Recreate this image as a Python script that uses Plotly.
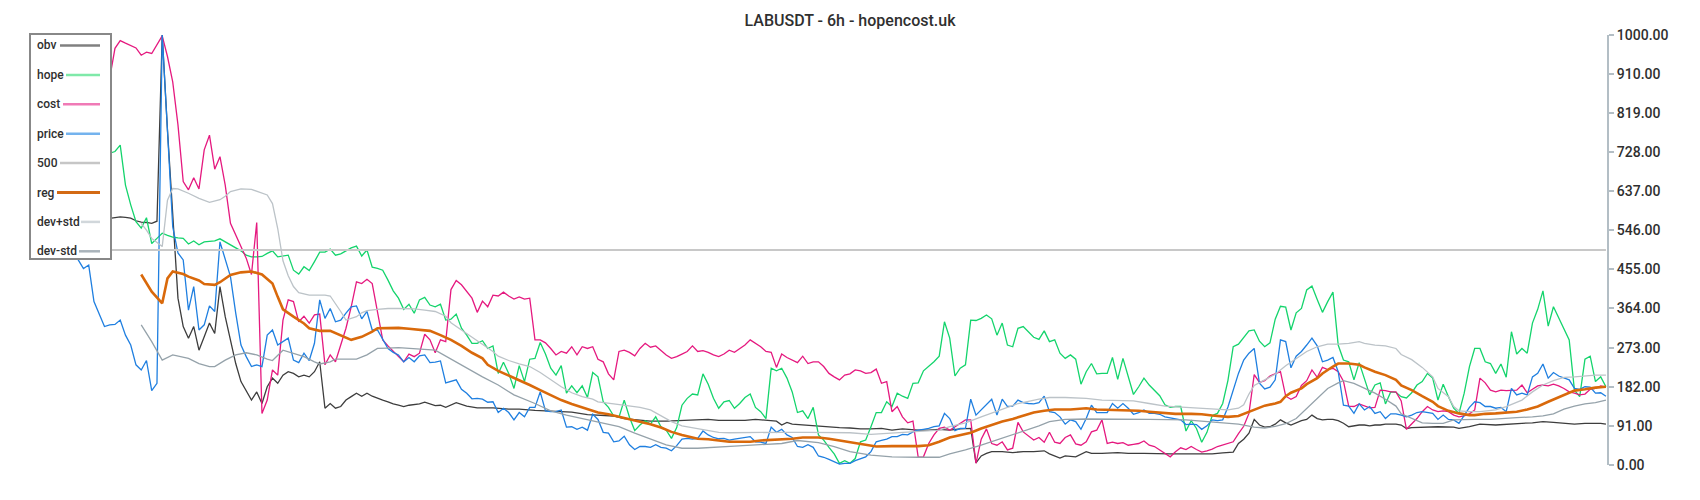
import plotly.graph_objects as go

# ---------------- data (bar index = 6h candle number) ----------------
N_BARS = 300
LEVEL_500 = 500

price_start = 7
price = [
    505, 477, 457, 465, 380, 353, 322, 326, 327, 337,
    302, 279, 233, 221, 243, 173, 190, 1000, 760, 554,
    493, 477, 360, 415, 314, 326, 370, 357, 519, 477,
    438, 353, 279, 252, 229, 233, 229, 302, 314, 279,
    287, 295, 244, 238, 260, 243, 283, 384, 341, 364,
    333, 337, 353, 368, 370, 340, 357, 314, 314, 291,
    271, 262, 256, 240, 250, 240, 254, 256, 238, 239,
    242, 191, 194, 198, 176, 167, 154, 155, 153, 146,
    147, 122, 132, 122, 105, 122, 112, 134, 134, 170,
    126, 124, 124, 128, 88, 89, 83, 88, 81, 118,
    106, 76, 74, 54, 56, 67, 47, 36, 43, 43,
    41, 47, 41, 39, 33, 45, 60, 62, 60, 62,
    79, 70, 64, 61, 62, 58, 60, 62, 64, 66,
    54, 53, 50, 88, 76, 83, 70, 64, 43, 41,
    47, 41, 21, 18, 13, 8, 2, 4, 4, 10,
    15, 19, 31, 54, 57, 60, 66, 66, 71, 70,
    77, 81, 83, 85, 89, 91, 120, 108, 80, 85,
    85, 153, 116, 129, 142, 153, 116, 153, 136, 137,
    151, 145, 143, 142, 145, 160, 124, 122, 112, 95,
    105, 101, 83, 108, 139, 122, 122, 122, 143, 132,
    143, 132, 118, 122, 128, 120, 120, 118, 112, 110,
    108, 105, 94, 95, 94, 83, 91, 105, 103, 105,
    135, 176, 213, 244, 260, 271, 190, 177, 181, 198,
    291, 287, 226, 253, 264, 279, 295, 277, 240, 244,
    250, 217, 139, 137, 120, 142, 128, 136, 120, 124,
    108, 119, 119, 116, 112, 116, 122, 124, 122, 120,
    106, 116, 106, 105, 97, 116, 134, 147, 145, 136,
    136, 132, 134, 124, 178, 163, 167, 163, 205, 213,
    235, 202, 215, 207, 202, 198, 178, 176, 182, 181,
    167, 168, 160,
]

cost_start = 13
cost = [
    850, 900, 969, 987, 981, 975, 970, 953, 960, 957,
    977, 998, 950, 891, 791, 659, 640, 668, 642, 733,
    767, 688, 717, 651, 562, 535, 512, 481, 443, 564,
    120, 151, 221, 209, 337, 384, 380, 333, 346, 330,
    349, 351, 233, 256, 240, 279, 318, 368, 426, 422,
    432, 422, 360, 291, 277, 265, 252, 240, 258, 252,
    260, 304, 291, 261, 291, 287, 408, 429, 419, 403,
    388, 355, 381, 368, 395, 393, 402, 393, 386, 391,
    386, 388, 291, 291, 284, 271, 256, 264, 260, 275,
    256, 275, 271, 275, 246, 240, 212, 198, 264, 267,
    262, 254, 271, 283, 274, 277, 266, 256, 248, 252,
    258, 264, 277, 264, 266, 262, 256, 252, 258, 267,
    262, 271, 279, 291, 284, 275, 264, 262, 227, 258,
    250, 244, 238, 253, 236, 240, 240, 229, 213, 205,
    198, 209, 212, 221, 219, 213, 215, 223, 190, 194,
    124, 136, 112, 98, 102, 18, 19, 50, 70, 85,
    88, 81, 89, 98, 105, 105, 4, 60, 84, 50,
    46, 54, 35, 39, 99, 77, 68, 58, 64, 53,
    76, 53, 50, 64, 70, 49, 46, 54, 77, 81,
    105, 50, 53, 50, 52, 46, 48, 50, 56, 46,
    43, 35, 29, 19, 31, 40, 36, 43, 36, 30,
    33, 37, 43, 47, 51, 54, 73, 90, 120, 210,
    192, 196, 207, 212, 217, 160, 153, 159, 185, 196,
    221, 204, 227, 222, 225, 217, 195, 137, 136, 142,
    137, 133, 134, 174, 173, 170, 170, 149, 83, 95,
    108, 124, 136, 128, 124, 126, 124, 116, 112, 114,
    119, 128, 202, 191, 174, 170, 174, 173, 173, 174,
    186, 168, 176, 184, 186, 184, 188, 184, 178, 170,
    167, 163, 165, 176, 178, 184, 181,
]

hope_start = 13
hope = [
    700, 725, 729, 744, 651, 605, 566, 551, 575, 515,
    527, 539, 534, 530, 528, 527, 514, 521, 512, 519,
    520, 521, 526, 519, 512, 505, 498, 488, 484, 484,
    485, 492, 498, 484, 486, 488, 453, 444, 461, 452,
    473, 495, 495, 502, 488, 491, 498, 505, 509, 486,
    500, 460, 457, 453, 430, 405, 388, 362, 374, 353,
    384, 390, 372, 368, 374, 337, 339, 351, 318, 302,
    283, 283, 289, 271, 277, 213, 239, 213, 178, 231,
    194, 246, 248, 285, 258, 225, 209, 231, 167, 184,
    168, 184, 157, 215, 205, 147, 134, 114, 111, 151,
    111, 80, 93, 103, 95, 112, 89, 81, 62, 87,
    139, 155, 165, 163, 212, 188, 155, 132, 147, 150,
    132, 143, 157, 165, 134, 124, 108, 225, 219, 225,
    202, 170, 122, 126, 108, 134, 70, 58, 41, 26,
    4, 10, 4, 15, 54, 58, 89, 122, 122, 147,
    136, 167, 160, 155, 190, 191, 219, 229, 240, 253,
    333, 295, 207, 225, 233, 337, 336, 341, 349, 340,
    302, 330, 279, 275, 318, 322, 310, 297, 292, 312,
    287, 291, 260, 248, 256, 246, 188, 217, 236, 212,
    213, 213, 250, 199, 248, 205, 164, 182, 202, 186,
    174, 161, 140, 134, 136, 136, 79, 103, 85, 53,
    76, 115, 120, 143, 197, 275, 281, 296, 312, 314,
    288, 275, 284, 339, 369, 367, 314, 354, 364, 407,
    416, 385, 355, 380, 402, 279, 244, 240, 198, 238,
    198, 163, 186, 191, 142, 170, 169, 159, 156, 168,
    186, 194, 213, 202, 151, 188, 159, 132, 120, 167,
    229, 271, 271, 240, 236, 213, 235, 204, 310, 258,
    271, 260, 330, 362, 405, 323, 368, 341, 318, 291,
    174, 159, 246, 253, 194, 205, 182,
]

obv_bar = [
    13, 14, 15, 16, 17, 18, 19, 20, 21, 22,
    23, 24, 25, 26, 27, 28, 29, 30, 31, 32,
    33, 34, 35, 36, 37, 38, 39, 40, 41, 42,
    43, 44, 45, 46, 47, 48, 49, 50, 51, 52,
    53, 54, 55, 56, 57, 58, 59, 60, 61, 62,
    63, 64, 65, 66, 67, 68, 69,
    70, 71, 73, 74, 76, 77, 78, 80, 82, 84, 87, 90, 92, 95, 97, 100, 102,
    105, 107, 110, 112, 115, 117, 120, 123, 125, 128, 130, 133, 135, 137,
    139, 141, 142, 143, 144, 146, 148, 151, 153, 155, 157, 159, 161, 163,
    165, 168, 170, 172, 174, 176, 178, 179, 180, 181, 182, 184, 186, 188,
    190, 192, 193, 195, 196, 198, 200, 201, 203, 206, 208, 211, 213, 216,
    219, 222, 224, 226, 228, 229, 230, 231, 232, 233, 234, 235, 236, 237,
    238, 239, 240, 241, 242, 243, 244, 245, 246, 247, 248, 249, 250, 251,
    252, 253, 254, 255, 256, 257, 258, 259, 260, 261, 262, 265, 267, 270,
    271, 273, 275, 278, 280, 283, 285, 287, 289, 291, 293, 295, 297, 298, 299,
]
obv = [
    572, 574, 576, 577, 576, 574, 568, 565, 564, 562,
    567, 1000, 779, 570, 388, 322, 295, 322, 267, 298,
    330, 306, 415, 345, 291, 236, 194, 174, 151, 170,
    143, 182, 202, 190, 209, 217, 213, 205, 209, 205,
    217, 240, 132, 143, 132, 136, 151, 159, 167, 160,
    167, 160, 155, 151, 147, 142, 139,
    136, 139, 142, 146, 138, 139, 134, 145, 137, 133, 133, 130, 130, 127, 126, 123, 123,
    117, 116, 114, 108, 104, 102, 102, 104, 104, 106, 104, 104, 104, 106,
    104, 102, 93, 99, 95, 93, 92, 89, 87, 86, 84, 84, 85, 81,
    84, 81, 81, 83, 81, 84, 85, 5, 21, 27, 31, 31, 29, 31,
    31, 33, 26, 16, 21, 19, 31, 27, 27, 29, 27, 27, 26, 26,
    26, 26, 26, 28, 30, 50, 60, 74, 106, 93, 88, 89, 95, 105,
    98, 93, 98, 103, 106, 116, 108, 105, 106, 106, 103, 97, 89, 91,
    93, 93, 91, 93, 93, 95, 95, 95, 93, 85, 87, 89, 89, 88,
    85, 89, 95, 93, 95, 97, 98, 101, 99, 97, 95, 97, 98, 97, 95,
]

reg_bar = [
    20, 22, 24, 25, 26, 28, 29, 31, 32, 34,
    35, 37, 39, 41, 43, 44, 45, 46, 47, 49,
    51, 52, 54, 56, 58, 60, 62, 64, 65, 67,
    69, 71, 73, 75, 77, 79, 81, 83, 85, 86,
    88, 90, 92, 94, 96, 98, 100, 102, 104, 106,
    107, 109, 111, 113, 115, 117, 119, 121, 123, 125,
    126, 128, 130, 132, 134, 136, 138, 140, 142, 144,
    146, 147, 149, 151, 153, 155, 158, 160, 163, 168,
    170, 172, 174, 176, 178, 180, 182, 184, 186, 188,
    190, 192, 194, 197, 200, 202, 205, 207, 210, 212,
    215, 217, 220, 222, 224, 226, 227, 229, 230, 232,
    234, 236, 237, 238, 239, 241, 242, 244, 245, 247,
    248, 250, 252, 253, 255, 257, 259, 260, 262, 264,
    266, 267, 269, 271, 273, 274, 276, 278, 280, 282,
    284, 286, 288, 290, 292, 293, 295, 297, 299,
]
reg = [
    443, 403, 376, 434, 450, 444, 438, 429, 421, 419,
    425, 442, 448, 450, 443, 432, 422, 391, 362, 345,
    329, 318, 312, 312, 302, 291, 298, 310, 318, 318,
    319, 317, 315, 312, 302, 291, 277, 261, 248, 233,
    219, 208, 198, 186, 174, 163, 151, 142, 134, 126,
    122, 118, 112, 106, 101, 95, 87, 77, 70, 64,
    61, 60, 57, 54, 54, 54, 57, 58, 60, 61,
    64, 64, 64, 61, 57, 52, 46, 43, 44, 44,
    46, 54, 64, 70, 75, 85, 93, 101, 107, 115,
    122, 126, 129, 129, 132, 129, 128, 128, 126, 124,
    120, 119, 119, 118, 115, 113, 112, 114, 119, 129,
    138, 143, 147, 160, 168, 178, 188, 202, 213, 229,
    236, 236, 233, 227, 217, 209, 198, 185, 174, 160,
    147, 137, 126, 120, 116, 116, 119, 120, 122, 124,
    129, 136, 147, 157, 167, 173, 176, 180, 182,
]

dev_plus_bar = [
    20, 21, 22, 24, 25, 26, 27, 29, 31, 33,
    35, 36, 37, 39, 41, 42, 44, 45, 46, 47,
    48, 49, 50, 52, 55, 56, 57, 58, 59, 61,
    62, 63, 65, 67, 69, 72, 74, 76, 78, 79,
    81, 83, 85, 87, 88, 90, 92, 94, 96, 98,
    100, 102, 104, 106, 107, 110, 113, 115, 117, 119,
    121, 123, 125, 126, 128, 130, 132, 137, 142, 147,
    152, 155, 159, 163, 168, 172, 174, 177, 180, 184,
    187, 191, 193, 196, 200, 203, 206, 209, 212, 215,
    219, 222, 225, 227, 229, 230, 231, 232, 234, 236,
    238, 240, 242, 244, 246, 248, 250, 252, 253, 255,
    257, 259, 260, 262, 264, 266, 267, 269, 270, 271,
    273, 275, 278, 280, 283, 285, 287, 289, 291, 293,
    295, 297, 299,
]
dev_plus = [
    562, 546, 527, 508, 616, 643, 642, 632, 620, 611,
    617, 625, 636, 642, 641, 637, 628, 608, 550, 475,
    440, 415, 401, 395, 395, 393, 376, 357, 337, 345,
    354, 359, 362, 364, 364, 363, 360, 357, 346, 331,
    314, 297, 281, 264, 253, 243, 235, 229, 215, 198,
    182, 168, 159, 153, 147, 142, 137, 134, 128, 114,
    101, 91, 87, 85, 81, 76, 75, 76, 76, 76,
    75, 75, 71, 74, 77, 81, 89, 98, 112, 129,
    143, 153, 157, 157, 155, 151, 150, 149, 143, 137,
    134, 132, 130, 128, 132, 140, 165, 185, 198, 211,
    231, 248, 264, 275, 281, 281, 283, 287, 283, 279,
    277, 271, 257, 245, 227, 205, 178, 159, 136, 126,
    124, 124, 128, 136, 151, 170, 186, 196, 204, 205,
    207, 209, 209,
]

dev_minus_bar = [
    20, 22, 24, 26, 29, 31, 33, 34, 36, 38,
    40, 42, 44, 45, 47, 49, 51, 53, 54, 56,
    57, 59, 61, 63, 65, 67, 69, 76, 79, 82,
    85, 88, 91, 95, 98, 101, 104, 107, 111, 114,
    117, 120, 123, 126, 133, 139, 142, 145, 149, 152,
    155, 159, 163, 168, 172, 174, 177, 180, 184, 187,
    191, 193, 196, 200, 206, 212, 219, 222, 225, 227,
    229, 232, 234, 236, 238, 240, 242, 244, 246, 248,
    249, 251, 253, 255, 257, 259, 260, 262, 264, 266,
    268, 270, 272, 274, 277, 279, 282, 285, 287, 289,
    291, 293, 295, 297, 299,
]
dev_minus = [
    326, 287, 244, 256, 248, 236, 229, 229, 244, 256,
    261, 256, 246, 243, 267, 260, 252, 240, 235, 240,
    246, 246, 246, 256, 271, 272, 273, 267, 246, 225,
    205, 186, 163, 143, 126, 116, 108, 101, 89, 74,
    60, 47, 39, 39, 44, 47, 50, 57, 52, 43,
    31, 23, 19, 18, 18, 26, 35, 46, 62, 75,
    91, 101, 106, 107, 107, 106, 105, 102, 99, 97,
    95, 88, 86, 90, 96, 108, 132, 155, 178, 191,
    196, 190, 178, 167, 153, 137, 119, 109, 98, 97,
    97, 105, 106, 106, 106, 108, 110, 112, 114, 119,
    130, 137, 142, 145, 151,
]

tick_values = [0, 91, 182, 273, 364, 455, 546, 637, 728, 819, 910, 1000]

assert len(obv_bar) == len(obv)
assert len(reg_bar) == len(reg)
assert len(dev_plus_bar) == len(dev_plus)
assert len(dev_minus_bar) == len(dev_minus)
assert price_start + len(price) == N_BARS
assert cost_start + len(cost) == N_BARS
assert hope_start + len(hope) == N_BARS

# ---------------- styles ----------------
FONT = "Roboto"
TEXT_COLOR = "#2f2f2f"
series_style = {
    "obv":     dict(color="#3d3d3d", width=1.3),
    "hope":    dict(color="#14d46c", width=1.3),
    "cost":    dict(color="#e5197f", width=1.3),
    "price":   dict(color="#1f7fe0", width=1.3),
    "500":     dict(color="#c8c8c8", width=2),
    "reg":     dict(color="#d9690b", width=2.6),
    "dev+std": dict(color="#bcc3c8", width=1.3),
    "dev-std": dict(color="#95a2aa", width=1.3),
}
legend_color = {
    "obv": "#808080", "hope": "#7fe9a9", "cost": "#f07ab6", "price": "#74b3ee",
    "500": "#c6c6c6", "reg": "#d36a14", "dev+std": "#d1d7db", "dev-std": "#a9b3ba",
}

series = [
    ("obv", obv_bar, obv),
    ("hope", list(range(hope_start, N_BARS)), hope),
    ("cost", list(range(cost_start, N_BARS)), cost),
    ("price", list(range(price_start, N_BARS)), price),
    ("500", list(range(N_BARS)), [LEVEL_500] * N_BARS),
    ("reg", reg_bar, reg),
    ("dev+std", dev_plus_bar, dev_plus),
    ("dev-std", dev_minus_bar, dev_minus),
]

fig = go.Figure()
for name, xs, ys in series:
    fig.add_trace(go.Scatter(
        x=xs, y=ys, name=name, mode="lines",
        line=dict(color=series_style[name]["color"], width=series_style[name]["width"]),
        hoverinfo="skip",
    ))

# ---------------- layout ----------------
W, H = 1700, 500
M_L, M_R, M_T, M_B = 0, 93, 35, 35
PLOT_W = W - M_L - M_R
PLOT_H = H - M_T - M_B


def paper_x(px):
    return (px - M_L) / PLOT_W


def paper_y(py):
    return (H - M_B - py) / PLOT_H


fig.update_layout(
    width=W, height=H,
    margin=dict(l=M_L, r=M_R, t=M_T, b=M_B, pad=0),
    paper_bgcolor="white", plot_bgcolor="white",
    showlegend=False,
    font=dict(family=FONT, color=TEXT_COLOR),
    title=dict(
        text="LABUSDT - 6h - hopencost.uk",
        xref="container", yref="container", x=0.5, y=1 - 20 / H,
        xanchor="center", yanchor="middle",
        font=dict(family=FONT, size=16, color=TEXT_COLOR, weight=500),
    ),
    xaxis=dict(range=[-6.9, 299.2], visible=False, fixedrange=True),
    yaxis=dict(
        side="right", range=[0, 1000],
        tickvals=tick_values, tickformat=".2f",
        ticks="outside", ticklen=5, tickwidth=1.5, tickcolor="#b3bec5",
        showline=True, linecolor="#b3bec5", linewidth=2,
        showgrid=False, zeroline=False,
        tickfont=dict(family=FONT, size=14, color=TEXT_COLOR, weight=500),
        fixedrange=True,
    ),
)

# ---------------- custom legend (text first, sample line after) ----------------
legend_names = ["obv", "hope", "cost", "price", "500", "reg", "dev+std", "dev-std"]
legend_line_start = [60, 66, 63, 66, 60, 57, 81, 79]
LEG_X0, LEG_X1, LEG_Y0, LEG_Y1 = 30, 111, 34, 259
LEG_TEXT_X, LEG_LINE_END = 35, 100
LEG_ROW0, LEG_ROW_STEP = 45.5, 29.4

shapes = [dict(
    type="rect", xref="paper", yref="paper", layer="above",
    x0=paper_x(LEG_X0), x1=paper_x(LEG_X1), y0=paper_y(LEG_Y1), y1=paper_y(LEG_Y0),
    line=dict(color="#888888", width=2), fillcolor="white",
)]
annotations = []
for k, name in enumerate(legend_names):
    yk = LEG_ROW0 + LEG_ROW_STEP * k
    shapes.append(dict(
        type="line", xref="paper", yref="paper", layer="above",
        x0=paper_x(legend_line_start[k]), x1=paper_x(LEG_LINE_END),
        y0=paper_y(yk), y1=paper_y(yk),
        line=dict(color=legend_color[name], width=3 if name == "reg" else 2.5),
    ))
    annotations.append(dict(
        xref="paper", yref="paper", x=paper_x(LEG_TEXT_X), y=paper_y(yk),
        xanchor="left", yanchor="middle", showarrow=False, text=name,
        font=dict(family=FONT, size=12, color=TEXT_COLOR, weight=500),
    ))
fig.update_layout(shapes=shapes, annotations=annotations)

# remove the browser's default 8px body margin so the figure sits at the page origin
fig.write_html(
    "out.html", include_plotlyjs=True, config={"displayModeBar": False},
    post_script="document.body.style.margin='0px';",
)
